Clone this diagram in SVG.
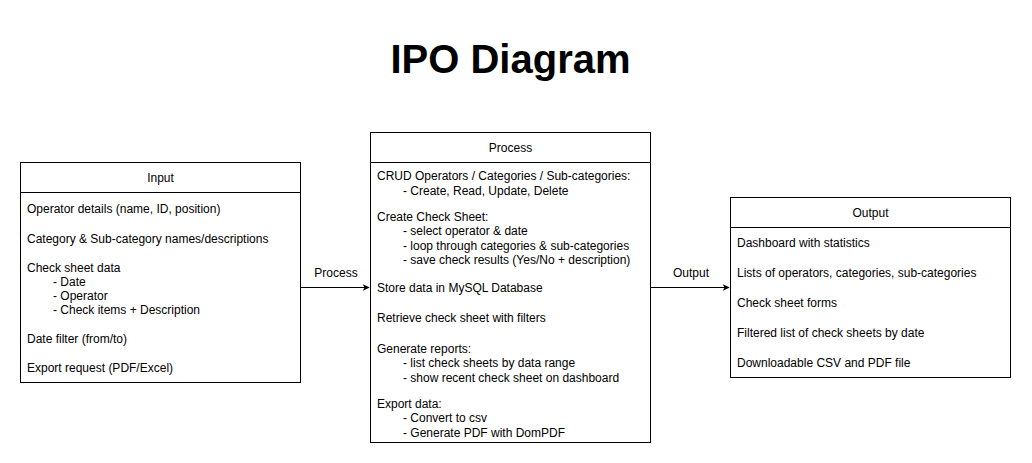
<svg xmlns="http://www.w3.org/2000/svg" width="1032" height="463" viewBox="0 0 1032 463">
  <style>
    .box { fill: #ffffff; stroke: #000000; stroke-width: 1; }
    .sep { stroke: #000000; stroke-width: 1; }
    .t { font-family: "Liberation Sans", Arial, Helvetica, sans-serif; font-size: 12px; fill: #000000; }
    .c { text-anchor: middle; }
    .title { font-family: "Liberation Sans", Arial, Helvetica, sans-serif; font-size: 40px; font-weight: bold; fill: #000000; text-anchor: middle; }
    .edge { fill: none; stroke: #000000; stroke-width: 1; }
  </style>
  <defs>
    <marker id="arrow" viewBox="0 0 10 10" refX="9" refY="5" markerWidth="7" markerHeight="7" markerUnits="userSpaceOnUse" orient="auto">
      <path d="M0,0 L10,5 L0,10 L2.5,5 Z" fill="#000000"/>
    </marker>
  </defs>
  <rect x="0" y="0" width="1032" height="463" fill="#ffffff"/>

  <g id="title">
    <text class="title" x="510.5" y="73">IPO Diagram</text>
  </g>

  <g id="connectors">
    <line class="edge" x1="300.5" y1="287.5" x2="369" y2="287.5" marker-end="url(#arrow)"/>
    <text class="t c" x="336" y="277">Process</text>
    <line class="edge" x1="650.5" y1="287.5" x2="729" y2="287.5" marker-end="url(#arrow)"/>
    <text class="t c" x="691" y="277">Output</text>
  </g>

  <g id="input">
    <rect class="box" x="20.5" y="162.5" width="280" height="220"/>
    <line class="sep" x1="20.5" y1="192.5" x2="300.5" y2="192.5"/>
    <text class="t c" x="160.5" y="182">Input</text>
    <text class="t" x="27" y="213">Operator details (name, ID, position)</text>
    <text class="t" x="27" y="243">Category &amp; Sub-category names/descriptions</text>
    <text class="t" x="27" y="272">Check sheet data</text>
    <text class="t" x="53" y="286">- Date</text>
    <text class="t" x="53" y="300">- Operator</text>
    <text class="t" x="53" y="314">- Check items + Description</text>
    <text class="t" x="27" y="343">Date filter (from/to)</text>
    <text class="t" x="27" y="372">Export request (PDF/Excel)</text>
  </g>

  <g id="process">
    <rect class="box" x="370.5" y="132.5" width="280" height="310"/>
    <line class="sep" x1="370.5" y1="162.5" x2="650.5" y2="162.5"/>
    <text class="t c" x="510.5" y="152">Process</text>
    <text class="t" x="377" y="180">CRUD Operators / Categories / Sub-categories:</text>
    <text class="t" x="403" y="194.5">- Create, Read, Update, Delete</text>
    <text class="t" x="377" y="221">Create Check Sheet:</text>
    <text class="t" x="403" y="235">- select operator &amp; date</text>
    <text class="t" x="403" y="250">- loop through categories &amp; sub-categories</text>
    <text class="t" x="403" y="264">- save check results (Yes/No + description)</text>
    <text class="t" x="377" y="292">Store data in MySQL Database</text>
    <text class="t" x="377" y="322">Retrieve check sheet with filters</text>
    <text class="t" x="377" y="353">Generate reports:</text>
    <text class="t" x="403" y="367">- list check sheets by data range</text>
    <text class="t" x="403" y="382">- show recent check sheet on dashboard</text>
    <text class="t" x="377" y="408">Export data:</text>
    <text class="t" x="403" y="422">- Convert to csv</text>
    <text class="t" x="403" y="437">- Generate PDF with DomPDF</text>
  </g>

  <g id="output">
    <rect class="box" x="730.5" y="197.5" width="280" height="180"/>
    <line class="sep" x1="730.5" y1="227.5" x2="1010.5" y2="227.5"/>
    <text class="t c" x="870.5" y="217">Output</text>
    <text class="t" x="737" y="247">Dashboard with statistics</text>
    <text class="t" x="737" y="277">Lists of operators, categories, sub-categories</text>
    <text class="t" x="737" y="307">Check sheet forms</text>
    <text class="t" x="737" y="337">Filtered list of check sheets by date</text>
    <text class="t" x="737" y="367">Downloadable CSV and PDF file</text>
  </g>
</svg>
